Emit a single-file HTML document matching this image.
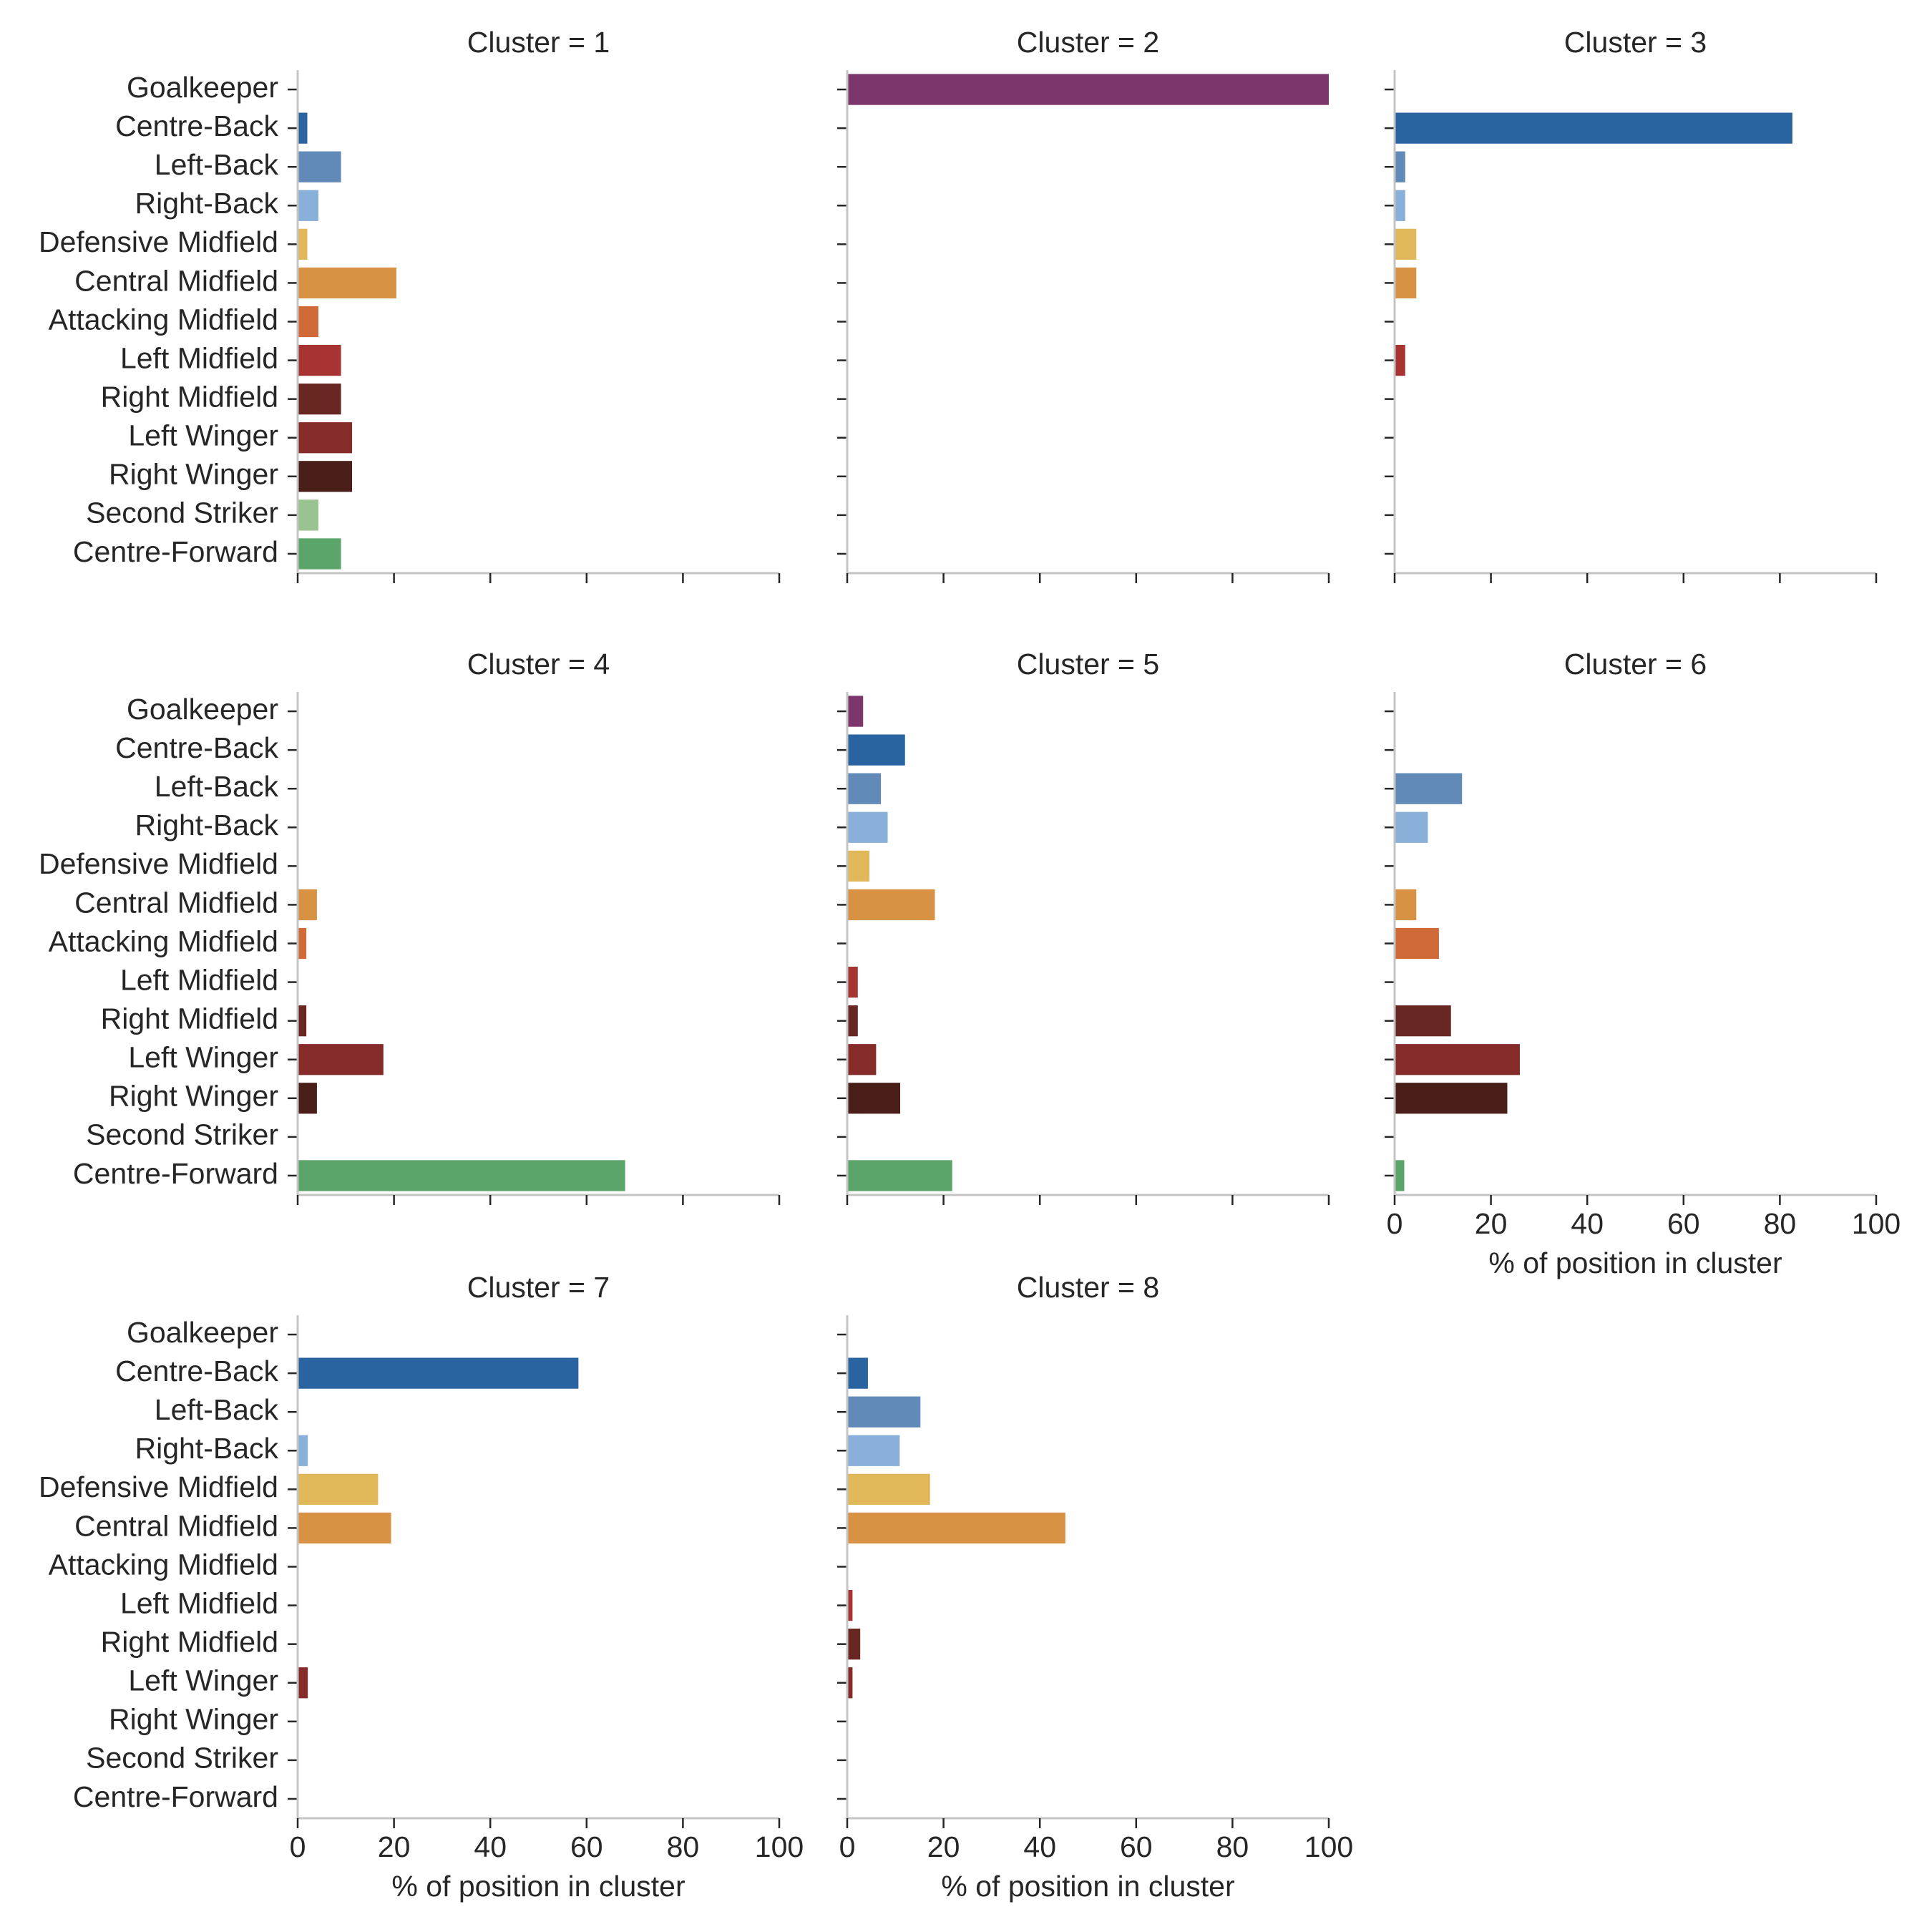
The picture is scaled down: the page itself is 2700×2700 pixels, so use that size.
<!DOCTYPE html>
<html><head><meta charset="utf-8"><style>
html,body{margin:0;padding:0;background:#fff}
svg{display:block}
text{font-family:"Liberation Sans",sans-serif;fill:#262626}
</style></head><body>
<svg id="chart" width="2700" height="2700" viewBox="0 0 2700 2700" xmlns="http://www.w3.org/2000/svg"></svg>
<script>
const categories = ["Goalkeeper","Centre-Back","Left-Back","Right-Back","Defensive Midfield","Central Midfield","Attacking Midfield","Left Midfield","Right Midfield","Left Winger","Right Winger","Second Striker","Centre-Forward"];
const colors = ["#7c366c","#2a64a0","#628ab9","#89b0d8","#e0b85a","#d89244","#d06a38","#a73433","#682722","#852b2a","#4a1f1a","#99c390","#5ba56b"];
const cluster1 = [0,2,9,4.3,2,20.5,4.3,9,9,11.3,11.3,4.3,9];
const cluster2 = [100,0,0,0,0,0,0,0,0,0,0,0,0];
const cluster3 = [0,82.6,2.2,2.2,4.5,4.5,0,2.2,0,0,0,0,0];
const cluster4 = [0,0,0,0,0,4,1.8,0,1.8,17.8,4,0,68];
const cluster5 = [3.3,12,7,8.4,4.6,18.2,0,2.2,2.2,6,11,0,21.8];
const cluster6 = [0,0,14,6.9,0,4.5,9.2,0,11.7,26,23.4,0,2];
const cluster7 = [0,58.3,0,2.1,16.7,19.4,0,0,0,2.1,0,0,0];
const cluster8 = [0,4.3,15.2,10.9,17.2,45.3,0,1.1,2.7,1.1,0,0,0];
const clusterValues = [cluster1,cluster2,cluster3,cluster4,cluster5,cluster6,cluster7,cluster8];
const xTicks = [0,20,40,60,80,100];

const NS="http://www.w3.org/2000/svg";
const svg=document.getElementById('chart');
function mk(tag,attrs,parent){const e=document.createElementNS(NS,tag);for(const k in attrs)e.setAttribute(k,attrs[k]);(parent||svg).appendChild(e);return e;}
const colX=[416,1184,1949], rowY=[98,967,1838], W=673, H=703, FS=41;
for(let c=0;c<8;c++){
  const col=c%3,row=Math.floor(c/3);
  const x0=colX[col],y0=rowY[row];
  const g=mk('g',{});
  
  
  const xs=v=>x0+v/100*W;
  const band=H/categories.length;
  const ys=i=>y0+band*(i+0.5);
  const t=mk('text',{x:x0+W/2,y:y0-36,'text-anchor':'middle','font-size':FS,'dominant-baseline':'middle'},g);
  t.textContent='Cluster = '+(c+1);
  
  
  const vals=clusterValues[c];
  vals.forEach((v,i)=>{
    if(v>0){const r=mk('rect',{x:xs(0),y:ys(i)-band*0.4,width:xs(v)-xs(0),height:band*0.8,fill:colors[i]},g);
    
    }
    mk('line',{x1:x0-14,x2:x0,y1:ys(i),y2:ys(i),stroke:'#262626','stroke-width':2.5},g);
    if(col===0){const l=mk('text',{x:x0-27,y:ys(i),'text-anchor':'end','dominant-baseline':'middle','font-size':FS},g);
    l.textContent=categories[i];
    
    }
  });
  mk('line',{x1:x0,x2:x0,y1:y0,y2:y0+H,stroke:'#c4c4c4','stroke-width':3},g);
  mk('line',{x1:x0,x2:x0+W,y1:y0+H,y2:y0+H,stroke:'#c4c4c4','stroke-width':3},g);
  const bottom = (row===2)||(row===1&&col===2);
  xTicks.forEach(v=>{
    mk('line',{x1:xs(v),x2:xs(v),y1:y0+H,y2:y0+H+14,stroke:'#262626','stroke-width':2.5},g);
    if(bottom){const l=mk('text',{x:xs(v),y:y0+H+43,'text-anchor':'middle','dominant-baseline':'middle','font-size':FS},g);
    l.textContent=v;
    
    }
  });
  if(bottom){const l=mk('text',{x:x0+W/2,y:y0+H+98,'text-anchor':'middle','dominant-baseline':'middle','font-size':FS},g);
    l.textContent='% of position in cluster';
    
    }
}
</script>
</body></html>
